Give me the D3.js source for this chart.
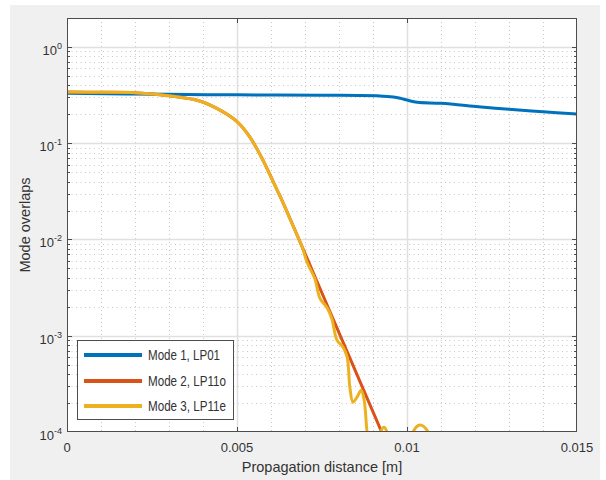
<!DOCTYPE html>
<html>
<head>
<meta charset="utf-8">
<script src="https://cdn.jsdelivr.net/npm/d3@7"></script>
<style>
  body { margin: 0; background: #fff; }
  text { font-family: "Liberation Sans", Arial, sans-serif; fill: #333; }
</style>
</head>
<body>
<script>
'use strict';

// propagation distance [m] / overlap pairs
const mode1Z = [0, 0.003, 0.005, 0.0075, 0.0092, 0.0096, 0.0098, 0.01, 0.0103, 0.011, 0.0121, 0.013, 0.014, 0.015];
const mode1V = [0.33, 0.322, 0.318, 0.315, 0.31, 0.302, 0.293, 0.281, 0.266, 0.26, 0.24, 0.225, 0.212, 0.201];

const mode2Z = [0, 0.001, 0.002, 0.003, 0.0039, 0.0045, 0.005, 0.00538, 0.00576, 0.00618, 0.00632, 0.00779, 0.0094];
const mode2V = [0.34, 0.338, 0.335, 0.312, 0.275, 0.221, 0.168, 0.116, 0.0669, 0.0326, 0.0257, 0.0016, 0.000076];

const mode3Z = [0, 0.001, 0.002, 0.003, 0.0039, 0.0045, 0.005, 0.00538, 0.00576, 0.00618, 0.00632, 0.0066,
  0.00691, 0.00706, 0.00729, 0.00744, 0.00765, 0.00779, 0.00794, 0.00812, 0.00824, 0.00832, 0.00841,
  0.00853, 0.00865, 0.00874, 0.00882, 0.00888, 0.009, 0.00915, 0.00923, 0.00932, 0.00941, 0.0095,
  0.0098, 0.01006, 0.01018, 0.01038, 0.01062, 0.0108, 0.012, 0.015];
const mode3V = [0.34, 0.338, 0.335, 0.312, 0.275, 0.221, 0.168, 0.116, 0.0669, 0.0326, 0.0257, 0.0151,
  0.0085, 0.0058, 0.0039, 0.00245, 0.00195, 0.0015, 0.0009, 0.00076, 0.0006, 0.00029, 0.000204,
  0.00023, 0.000272, 0.000214, 0.000104, 0.000073, 0.00003, 0.00005, 0.0001, 0.000112, 0.0001, 0.00005,
  0.00002, 0.00005, 0.0001, 0.000118, 0.0001, 0.00005, 0.00002, 0.00002];

const seriesNames = ["Mode 1, LP01", "Mode 2, LP11o", "Mode 3, LP11e"];
const seriesColors = ["#0072BD", "#D95319", "#EDB120"];

const xTicks = [0, 0.005, 0.01, 0.015];
const xTickLabels = ["0", "0.005", "0.01", "0.015"];
const yTicks = [1, 1e-1, 1e-2, 1e-3, 1e-4];
const yTickExps = ["0", "-1", "-2", "-3", "-4"];

const W = 606, H = 480;
const plot = { left: 67, right: 577, top: 18, bottom: 432 };

const svg = d3.select("body").append("svg")
  .attr("width", W).attr("height", H);

// figure background
svg.append("rect").attr("x", 10).attr("y", 5)
  .attr("width", 590).attr("height", 475).attr("fill", "#f0f0f0");

const x = d3.scaleLinear().domain([0, 0.015]).range([plot.left, plot.right]);
const y = d3.scaleLog().domain([1e-4, 2]).range([plot.bottom, plot.top]);

svg.append("rect")
  .attr("x", plot.left).attr("y", plot.top)
  .attr("width", plot.right - plot.left).attr("height", plot.bottom - plot.top)
  .attr("fill", "#fff");

// grid
const g = svg.append("g");
const xMinor = d3.range(1, 15).map((d) => d * 0.001).filter((d) => d !== 0.005 && d !== 0.01);
const yMinor = [];
for (let e = -4; e <= 0; e++) {
  for (let k = 2; k <= 9; k++) {
    const v = k * Math.pow(10, e);
    if (v <= 2) yMinor.push(v);
  }
}

g.selectAll(".xminor").data(xMinor).enter().append("line")
  .attr("x1", (d) => Math.round(x(d)) + 0.5).attr("x2", (d) => Math.round(x(d)) + 0.5)
  .attr("y1", plot.top).attr("y2", plot.bottom)
  .attr("stroke", "#c8c8c8").attr("stroke-width", 1).attr("stroke-dasharray", "1,3");

g.selectAll(".yminor").data(yMinor).enter().append("line")
  .attr("x1", plot.left).attr("x2", plot.right)
  .attr("y1", (d) => Math.round(y(d)) + 0.5).attr("y2", (d) => Math.round(y(d)) + 0.5)
  .attr("stroke", "#c8c8c8").attr("stroke-width", 1).attr("stroke-dasharray", "1,3.5");

g.selectAll(".xmajor").data([0.005, 0.01]).enter().append("line")
  .attr("x1", (d) => Math.round(x(d)) + 0.5).attr("x2", (d) => Math.round(x(d)) + 0.5)
  .attr("y1", plot.top).attr("y2", plot.bottom)
  .attr("stroke", "#e0e0e0").attr("stroke-width", 1.5);

g.selectAll(".ymajor").data(yTicks.slice(0, 4)).enter().append("line")
  .attr("x1", plot.left).attr("x2", plot.right)
  .attr("y1", (d) => Math.round(y(d)) + 0.5).attr("y2", (d) => Math.round(y(d)) + 0.5)
  .attr("stroke", "#e0e0e0").attr("stroke-width", 1.5);

// curves
svg.append("clipPath").attr("id", "clip").append("rect")
  .attr("x", plot.left).attr("y", plot.top)
  .attr("width", plot.right - plot.left).attr("height", plot.bottom - plot.top);

const line = d3.line()
  .x((d) => x(d[0]))
  .y((d) => y(d[1]))
  .curve(d3.curveCatmullRom.alpha(0.5));

const series = [
  d3.zip(mode1Z, mode1V),
  d3.zip(mode2Z, mode2V),
  d3.zip(mode3Z, mode3V),
];

svg.append("g").attr("clip-path", "url(#clip)")
  .selectAll("path").data(series).enter().append("path")
  .attr("d", line)
  .attr("fill", "none")
  .attr("stroke", (d, i) => seriesColors[i])
  .attr("stroke-width", 3)
  .attr("stroke-linejoin", "round");

// axes box and ticks
const axisColor = "#4d4d4d";
svg.append("rect")
  .attr("x", plot.left + 0.5).attr("y", plot.top + 0.5)
  .attr("width", plot.right - plot.left - 1).attr("height", plot.bottom - plot.top - 1)
  .attr("fill", "none").attr("stroke", axisColor).attr("stroke-width", 1);

const ticks = svg.append("g").attr("stroke", axisColor).attr("stroke-width", 1);
for (const v of yTicks.slice(0, 4)) {
  const yy = Math.round(y(v)) + 0.5;
  ticks.append("line").attr("x1", plot.left).attr("x2", plot.left + 5).attr("y1", yy).attr("y2", yy);
  ticks.append("line").attr("x1", plot.right - 5).attr("x2", plot.right).attr("y1", yy).attr("y2", yy);
}
for (const v of yMinor) {
  const yy = Math.round(y(v)) + 0.5;
  ticks.append("line").attr("x1", plot.left).attr("x2", plot.left + 3).attr("y1", yy).attr("y2", yy);
  ticks.append("line").attr("x1", plot.right - 3).attr("x2", plot.right).attr("y1", yy).attr("y2", yy);
}
for (const v of [0.005, 0.01]) {
  const xx = Math.round(x(v)) + 0.5;
  ticks.append("line").attr("x1", xx).attr("x2", xx).attr("y1", plot.bottom).attr("y2", plot.bottom - 5);
  ticks.append("line").attr("x1", xx).attr("x2", xx).attr("y1", plot.top).attr("y2", plot.top + 5);
}

// tick labels
svg.selectAll(".xlab").data(xTicks).enter().append("text")
  .attr("x", (d) => x(d)).attr("y", plot.bottom + 20)
  .attr("text-anchor", "middle").attr("font-size", 13)
  .text((d, i) => xTickLabels[i]);

yTicks.forEach((v, i) => {
  const t = svg.append("text")
    .attr("x", 62).attr("y", y(v) + 8)
    .attr("text-anchor", "end").attr("font-size", 13);
  t.append("tspan").text("10");
  t.append("tspan").attr("font-size", 9).attr("dy", -6).text(yTickExps[i]);
});

// axis labels
svg.append("text")
  .attr("x", (plot.left + plot.right) / 2).attr("y", 472)
  .attr("text-anchor", "middle").attr("font-size", 14.5)
  .text("Propagation distance [m]");

svg.append("text")
  .attr("transform", `translate(30,${(plot.top + plot.bottom) / 2}) rotate(-90)`)
  .attr("text-anchor", "middle").attr("font-size", 14.5)
  .text("Mode overlaps");

// legend
const legend = svg.append("g");
legend.append("rect")
  .attr("x", 77.5).attr("y", 340.5).attr("width", 156).attr("height", 79)
  .attr("fill", "#fff").attr("stroke", axisColor).attr("stroke-width", 1);

const legendY = [355, 381, 406];
seriesNames.forEach((name, i) => {
  legend.append("line")
    .attr("x1", 84).attr("x2", 142).attr("y1", legendY[i]).attr("y2", legendY[i])
    .attr("stroke", seriesColors[i]).attr("stroke-width", 4);
  legend.append("text")
    .attr("x", 148).attr("y", legendY[i] + 5)
    .attr("font-size", 14)
    .attr("textLength", i === 0 ? 72 : 78).attr("lengthAdjust", "spacingAndGlyphs")
    .text(name);
});
</script>
</body>
</html>
